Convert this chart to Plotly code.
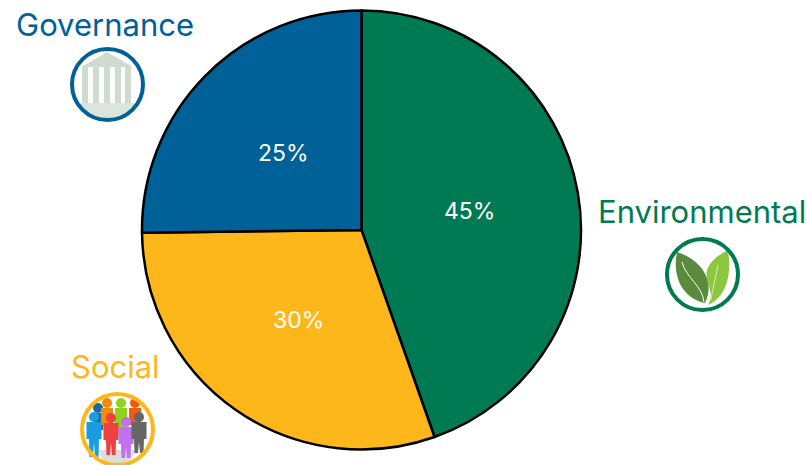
import math
import plotly.graph_objects as go

W, H = 807, 465
categories = ["Environmental", "Social", "Governance"]
values = [44.6, 30.2, 25.2]
colors = ["#007A53", "#FDB71A", "#006098"]
FONT = "Inter"
CX, CY, R = 361.5, 230, 219.5

def px(x): return x / W
def py(y): return 1 - y / H

def path(cmds):
    out = []
    for c in cmds:
        if isinstance(c, str):
            out.append(c)
        else:
            out.append(f"{px(c[0]):.5f},{py(c[1]):.5f}")
    return " ".join(out)

shapes = []
def add_path(cmds, fill, line=None, lw=0):
    shapes.append(dict(type="path", xref="paper", yref="paper", path=path(cmds),
                       fillcolor=fill, line=dict(color=line or fill, width=lw), layer="above"))

def circle(cx, cy, r, fill="rgba(0,0,0,0)", line=None, lw=0):
    shapes.append(dict(type="circle", xref="paper", yref="paper",
                       x0=px(cx - r), x1=px(cx + r), y0=py(cy + r), y1=py(cy - r),
                       fillcolor=fill, line=dict(color=line or fill, width=lw), layer="above"))

def rect(x0, y0, x1, y1, fill):
    add_path(["M", (x0, y0), "L", (x1, y0), "L", (x1, y1), "L", (x0, y1), "Z"], fill)

# Governance icon
temple = "#D0DBCF"
add_path(["M", (107, 52), "L", (133, 67), "L", (81, 67), "Z"], temple)
for x in [82, 93, 104, 115, 125]:
    rect(x, 67, x + 6, 103, temple)
add_path(["M", (78, 103), "L", (136, 103), "L", (131, 113), "Q", (107, 124), (84, 113), "Z"], "#DCE5DB")
circle(107.5, 84.5, 35.5, line=colors[2], lw=4)

# Environmental icon
add_path(["M", (705, 303), "C", (682, 298), (672, 276), (677, 252), "C", (697, 258), (717, 278), (705, 303), "Z"], "#5A8A3C")
add_path(["M", (708, 305), "C", (716, 292), (704, 284), (707, 270), "C", (711, 260), (720, 254), (728, 250),
          "C", (732, 275), (726, 298), (708, 305), "Z"], "#8DC63F")
add_path(["M", (682, 262), "C", (686, 278), (702, 285), (704, 302)], "rgba(0,0,0,0)", "#FFFFFF", 1)
add_path(["M", (718, 265), "C", (715, 280), (712, 292), (711, 300)], "rgba(0,0,0,0)", "#D8EDB8", 1)
circle(702.5, 274.5, 35.5, line=colors[0], lw=4)

# Social icon
def person(x, y, c, feet, hw):
    circle(x, y, 5, fill=c)
    add_path(["M", (x - hw, y + 5), "L", (x + hw, y + 5), "L", (x + hw, y + 22), "L", (x + hw - 2.5, y + 22),
              "L", (x + hw - 3, feet), "L", (x + 1, feet), "L", (x, y + 25), "L", (x - 1, feet), "L", (x - hw + 3, feet),
              "L", (x - hw + 2.5, y + 22), "L", (x - hw, y + 22), "Z"], c)

add_path(["M", (97, 450), "L", (137, 450), "L", (128, 464), "L", (106, 464), "Z"], "#DDDDDD")
for x, y, c, feet, hw in [(98, 408, "#1A6AA8", 436, 5), (107, 403, "#F08A10", 436, 6), (121, 403, "#8FD41C", 436, 6),
                          (135, 403, "#F05A14", 436, 6), (94, 417, "#1A9CE0", 457, 7.5), (111, 418, "#EF4040", 455, 7.5),
                          (126, 422, "#C070F0", 458, 7.5), (139, 417, "#666666", 453, 7.5)]:
    person(x, y, c, feet, hw)
circle(117.5, 429.5, 35.5, line=colors[1], lw=4)

fig = go.Figure(go.Pie(
    labels=categories, values=values, sort=False, direction="clockwise", rotation=0,
    marker=dict(colors=colors, line=dict(color="#000000", width=2.5)),
    textinfo="none", showlegend=False,
    domain=dict(x=[px(CX - R), px(CX + R)], y=[py(CY + R), py(CY - R)]),
))

labels = [("Governance", 105, 24, colors[2]), ("Environmental", 702, 211, colors[0]), ("Social", 115, 366, colors[1])]
annotations = [dict(text=t, x=px(x), y=py(y), xref="paper", yref="paper", showarrow=False,
                    xanchor="center", yanchor="middle", font=dict(family=FONT, size=31, color=c))
               for t, x, y, c in labels]

total = sum(values)
cum = 0
for v in values:
    a = 2 * math.pi * (cum + v / 2) / total
    cum += v
    annotations.append(dict(text=f"{v / total:.0%}", x=px(CX + R / 2 * math.sin(a)), y=py(CY - R / 2 * math.cos(a)),
                            xref="paper", yref="paper", showarrow=False, xanchor="center", yanchor="middle",
                            font=dict(family=FONT, size=23, color="#FFFFFF")))

fig.update_layout(width=W, height=H, margin=dict(l=0, r=0, t=0, b=0), paper_bgcolor="#FFFFFF",
                  shapes=shapes, annotations=annotations)
fig.write_html("out.html", config=dict(displayModeBar=False), post_script="document.body.style.margin='0';")
